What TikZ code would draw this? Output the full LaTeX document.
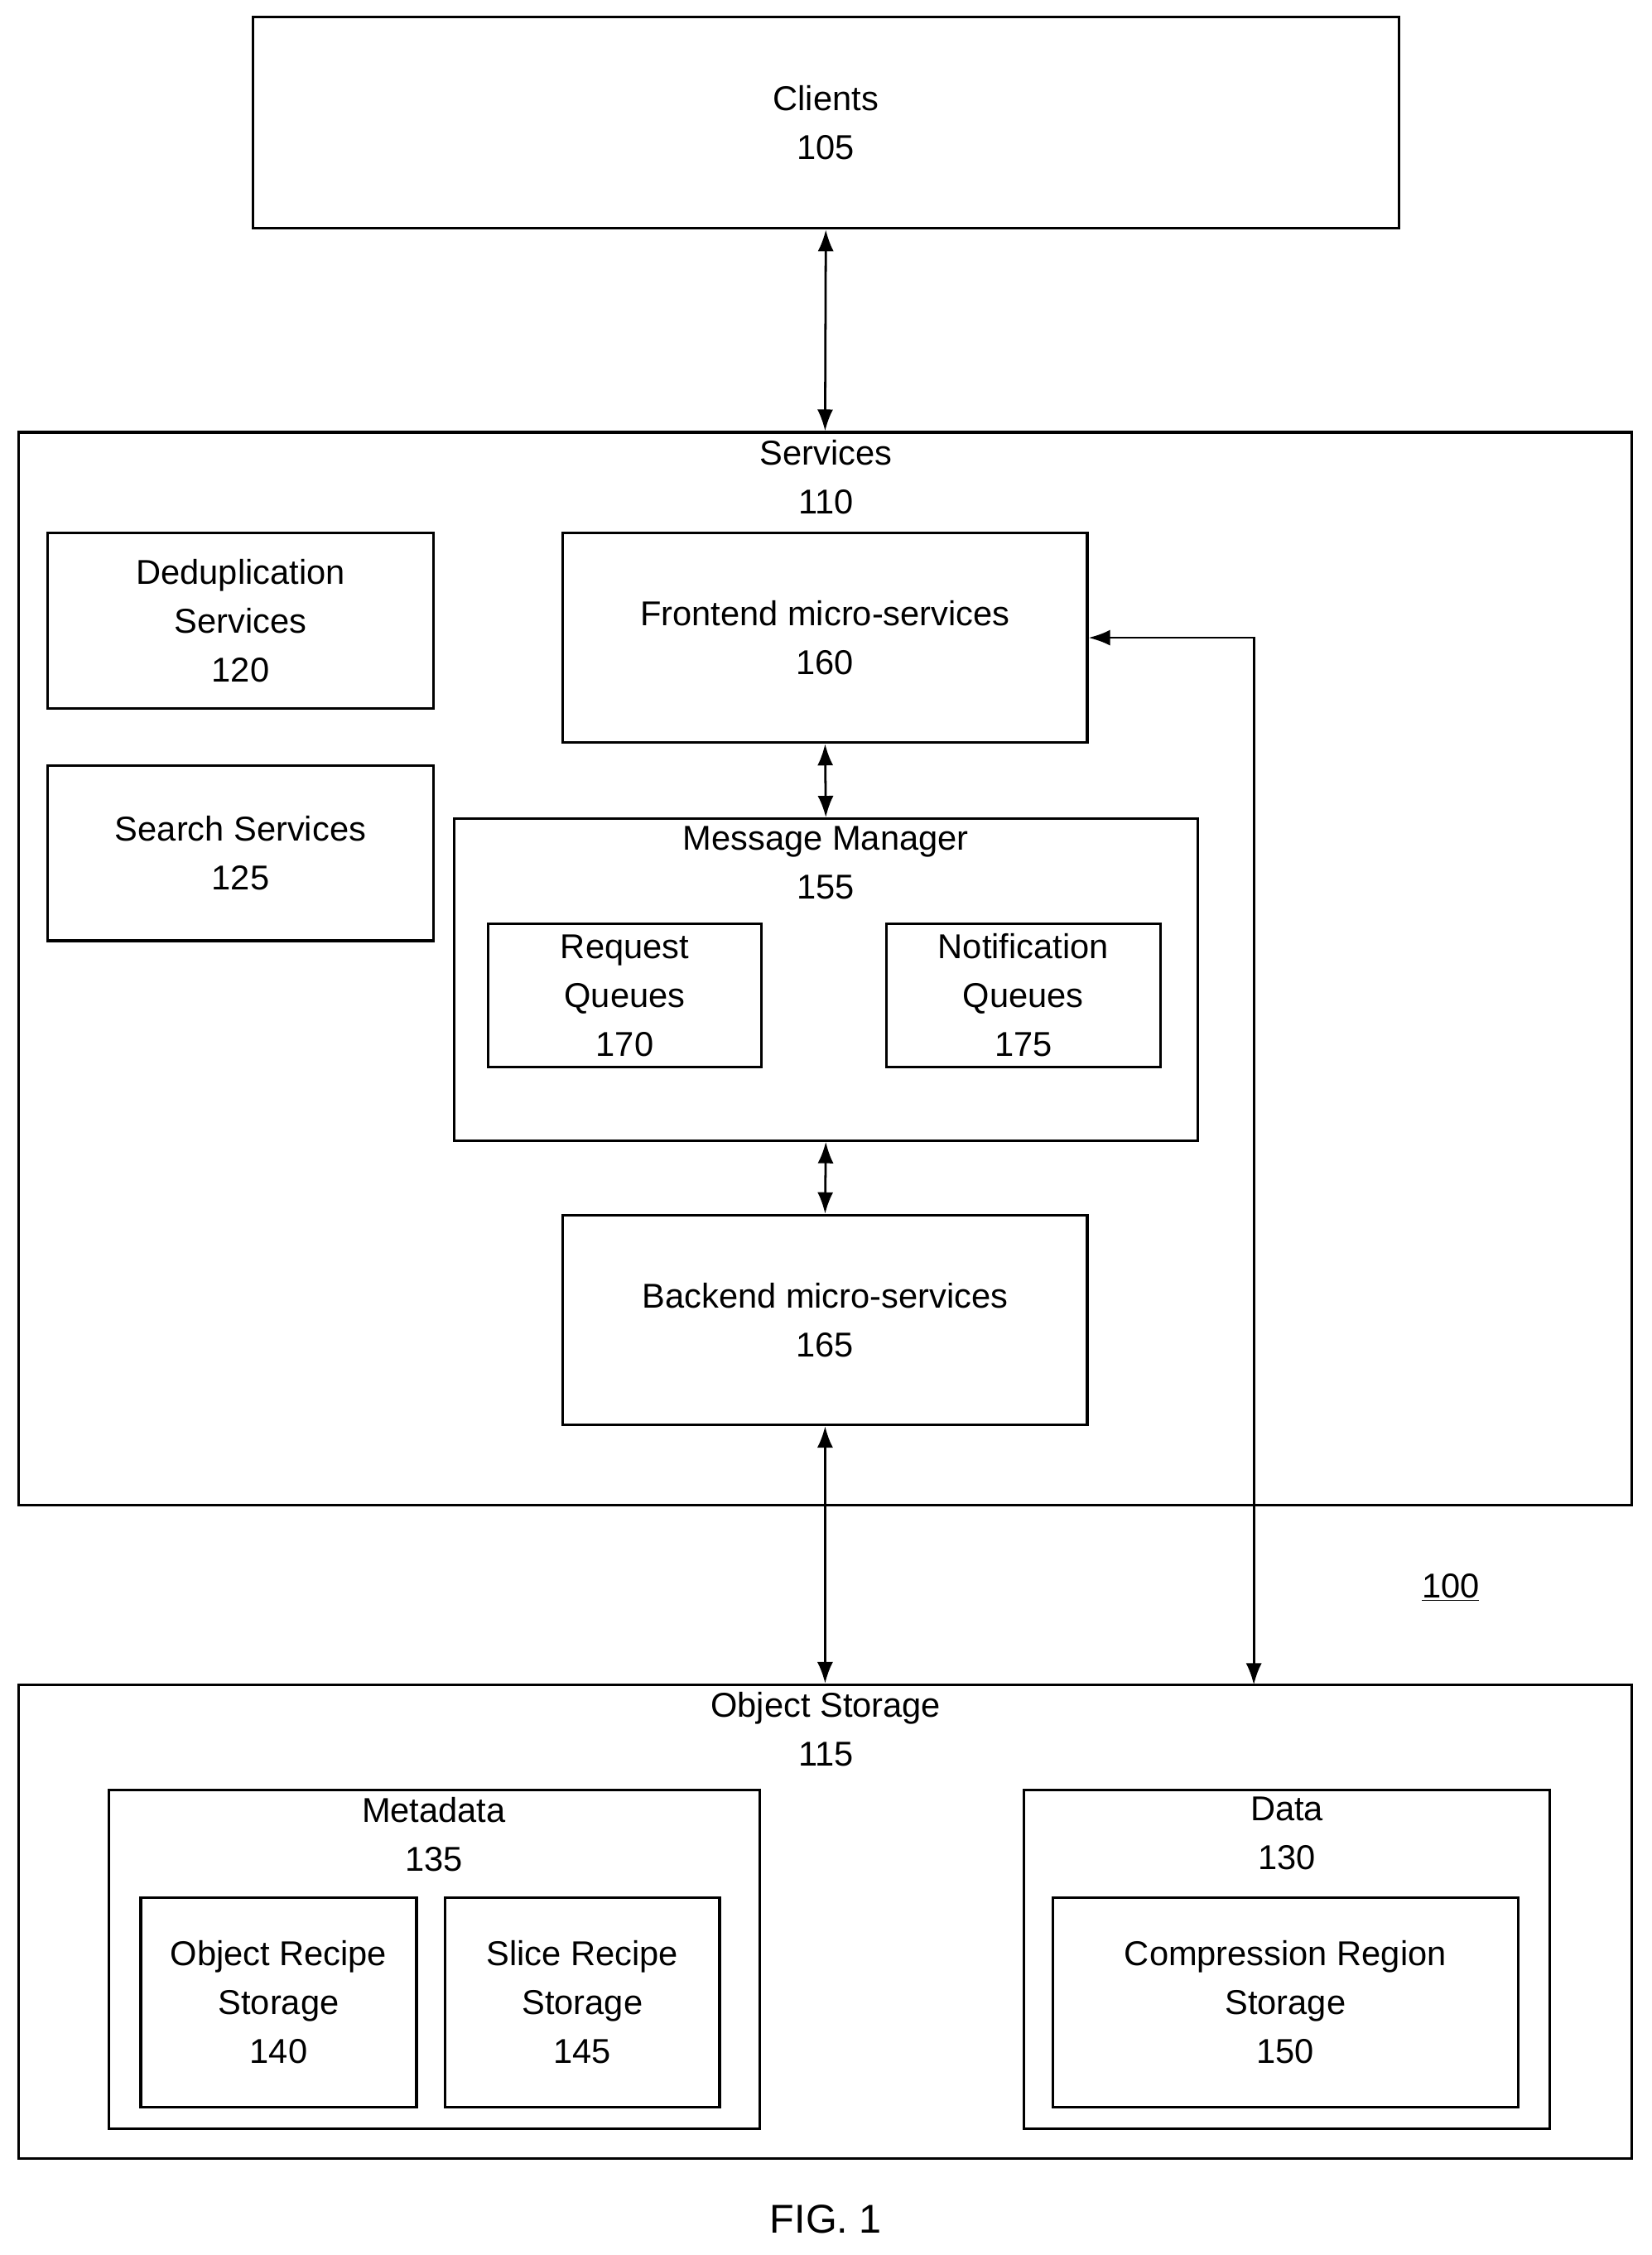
\documentclass[tikz,border=0pt]{standalone}
\usepackage{fontspec}
\setmainfont{Liberation Sans}
\usetikzlibrary{arrows.meta}
\begin{document}
\begin{tikzpicture}[x=1pt,y=-1pt,
  box/.style={draw,line width=1.8pt,inner sep=0pt},
  txt/.style={align=center,font=\fontsize{24}{34}\selectfont,inner sep=0pt},
  arr/.style={line width=1.6pt,{Latex[length=15pt,width=11pt]}-{Latex[length=15pt,width=11pt]}}]
\useasboundingbox (0,0) rectangle (1150,1570);
\newcommand\bx[5]{\node[box,minimum width=#4-#2,minimum height=#5-#3] (#1) at ({(#2+#4)/2},{(#3+#5)/2}) {};}
\bx{clients}{176}{12}{974}{159}
\node[txt] at (clients) {Clients\\105};
\bx{services}{13}{301}{1136}{1048}
\node[txt,anchor=north] at (575,306) {Services\\110};
\bx{dedup}{33}{371}{302}{493}
\node[txt] at (dedup) {Deduplication\\Services\\120};
\bx{search}{33}{533}{302}{655}
\node[txt] at (search) {Search Services\\125};
\bx{front}{392}{371}{757}{517}
\node[txt] at (front) {Frontend micro-services\\160};
\bx{mm}{316}{570}{834}{794}
\node[txt,anchor=north] at (575,575) {Message Manager\\155};
\bx{req}{340}{643}{530}{743}
\node[txt] at (req) {Request\\Queues\\170};
\bx{notif}{617}{643}{808}{743}
\node[txt] at (notif) {Notification\\Queues\\175};
\bx{back}{392}{846}{757}{992}
\node[txt] at (back) {Backend micro-services\\165};
\bx{obj}{13}{1173}{1136}{1503}
\node[txt,anchor=north] at (575,1178) {Object Storage\\115};
\bx{meta}{76}{1246}{529}{1482}
\node[txt,anchor=north] at (302,1251) {Metadata\\135};
\bx{orec}{98}{1321}{290}{1467}
\node[txt] at (orec) {Object Recipe\\Storage\\140};
\bx{srec}{310}{1321}{501}{1467}
\node[txt] at (srec) {Slice Recipe\\Storage\\145};
\bx{data}{713}{1246}{1079}{1482}
\node[txt,anchor=north] at (896,1251) {Data\\130};
\bx{comp}{733}{1321}{1057}{1467}
\node[txt] at (comp) {Compression Region\\Storage\\150};
\node[txt] (hundred) at (1010,1105) {\underline{100}};
\node[txt,font=\fontsize{28}{34}\selectfont] (fig) at (575,1545) {FIG. 1};
\coordinate (c1) at (873,444);
\draw[arr] (clients.south) -- (services.north);
\draw[arr] (front.south) -- (mm.north);
\draw[arr] (mm.south) -- (back.north);
\draw[arr] (back.south) -- (obj.north);
\draw[arr] (front.east) -- (c1) -- (873,1173);
\end{tikzpicture}
\end{document}
